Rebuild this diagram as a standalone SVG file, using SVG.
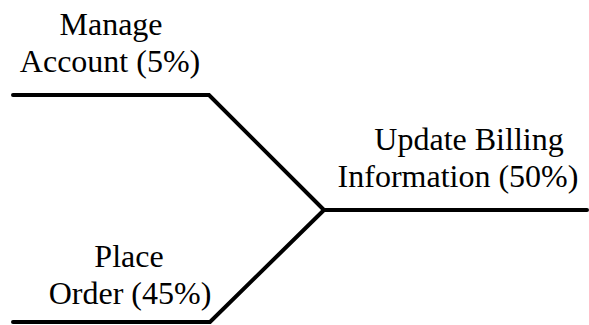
<svg xmlns="http://www.w3.org/2000/svg" width="589" height="325" viewBox="0 0 589 325">
<style>
.lbl{font-family:"Liberation Serif","Times New Roman",serif;font-size:32px;fill:#000;text-anchor:middle}
.ln{fill:none;stroke:#000;stroke-width:4;stroke-linecap:round;stroke-linejoin:miter}
</style>
<rect width="589" height="325" fill="#fff"/>
<g id="connectors">
<polyline class="ln" points="13,95 209,95 324,210"/>
<polyline class="ln" points="13,322 210,322 324,210"/>
<polyline class="ln" points="324,210 587,210"/>
</g>
<g id="manage-account">
<text class="lbl" x="111" y="35">Manage</text>
<text class="lbl" x="110" y="72">Account (5%)</text>
</g>
<g id="update-billing">
<text class="lbl" x="469" y="150">Update Billing</text>
<text class="lbl" x="458" y="187">Information (50%)</text>
</g>
<g id="place-order">
<text class="lbl" x="129" y="267">Place</text>
<text class="lbl" x="130" y="304">Order (45%)</text>
</g>
</svg>
